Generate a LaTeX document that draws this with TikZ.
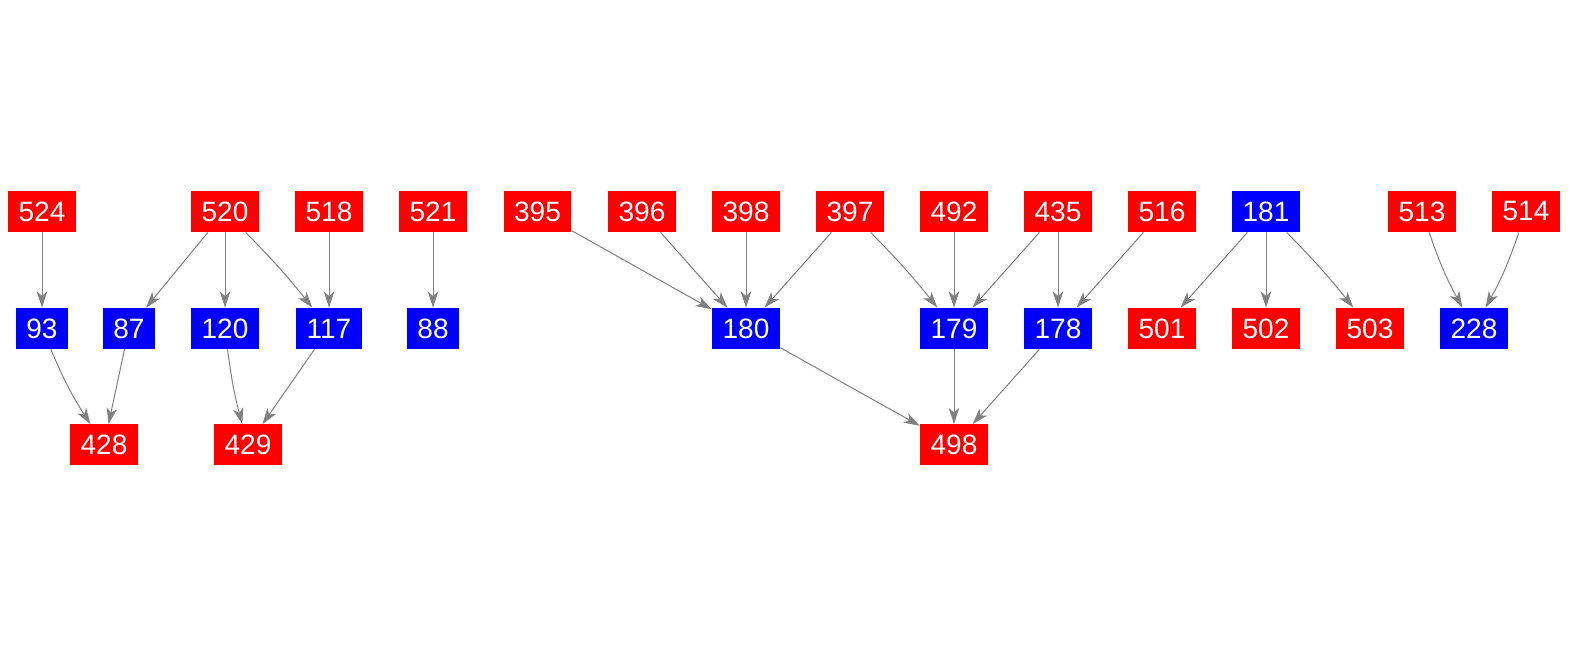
\documentclass[tikz,border=0pt]{standalone}
\usepackage{fontspec}
\setmainfont{Liberation Sans}
\usetikzlibrary{arrows.meta}
\begin{document}
\begin{tikzpicture}[x=0.5pt, y=-0.5pt,
    box/.style={text=white, minimum height=20.5pt, inner xsep=5.3pt, inner ysep=0pt,
        font=\fontsize{14}{16}\selectfont},
    rbox/.style={box, fill=red},
    bbox/.style={box, fill=blue},
    edge/.style={draw=gray, line width=0.5pt, -{Stealth[length=8pt, width=5.2pt, inset=2.2pt]}}]
    \useasboundingbox (0,0) rectangle (1569,656);
    % top row
    \node[rbox] (n524) at (42,211.5) {524};
    \node[rbox] (n520) at (225,211.5) {520};
    \node[rbox] (n518) at (329,211.5) {518};
    \node[rbox] (n521) at (433,211.5) {521};
    \node[rbox] (n395) at (537.5,211.5) {395};
    \node[rbox] (n396) at (642,211.5) {396};
    \node[rbox] (n398) at (746,211.5) {398};
    \node[rbox] (n397) at (850,211.5) {397};
    \node[rbox] (n492) at (954,211.5) {492};
    \node[rbox] (n435) at (1058,211.5) {435};
    \node[rbox] (n516) at (1162,211.5) {516};
    \node[bbox] (n181) at (1266,211.5) {181};
    \node[rbox] (n513) at (1422,211.5) {513};
    \node[rbox] (n514) at (1526,211.5) {514};
    % middle row
    \node[bbox] (n93) at (42,328.5) {93};
    \node[bbox] (n87) at (129,328.5) {87};
    \node[bbox] (n120) at (225,328.5) {120};
    \node[bbox] (n117) at (329,328.5) {117};
    \node[bbox] (n88) at (433,328.5) {88};
    \node[bbox] (n180) at (746,328.5) {180};
    \node[bbox] (n179) at (954,328.5) {179};
    \node[bbox] (n178) at (1058,328.5) {178};
    \node[rbox] (n501) at (1162,328.5) {501};
    \node[rbox] (n502) at (1266,328.5) {502};
    \node[rbox] (n503) at (1370,328.5) {503};
    \node[bbox] (n228) at (1474,328.5) {228};
    % bottom row
    \node[rbox] (n428) at (104,445) {428};
    \node[rbox] (n429) at (248,445) {429};
    \node[rbox] (n498) at (954,445) {498};
    % edges
    \draw[edge] (n524) -- (n93);
    \draw[edge] (n520) -- (n87);
    \draw[edge] (n520) -- (n120);
    \draw[edge] (n520) to[bend left=3] (n117);
    \draw[edge] (n518) -- (n117);
    \draw[edge] (n521) -- (n88);
    \draw[edge] (n93) to[bend right=5] (n428);
    \draw[edge] (n87) -- (n428);
    \draw[edge] (n120) to[bend right=4] (n429);
    \draw[edge] (n117) -- (n429);
    \draw[edge] (n395) -- (n180);
    \draw[edge] (n396) -- (n180);
    \draw[edge] (n398) -- (n180);
    \draw[edge] (n397) -- (n180);
    \draw[edge] (n397) to[bend left=3] (n179);
    \draw[edge] (n492) -- (n179);
    \draw[edge] (n435) -- (n179);
    \draw[edge] (n435) -- (n178);
    \draw[edge] (n516) -- (n178);
    \draw[edge] (n180) -- (n498);
    \draw[edge] (n179) -- (n498);
    \draw[edge] (n178) -- (n498);
    \draw[edge] (n181) -- (n501);
    \draw[edge] (n181) -- (n502);
    \draw[edge] (n181) to[bend left=3] (n503);
    \draw[edge] (n513) to[bend right=5] (n228);
    \draw[edge] (n514) to[bend left=5] (n228);
\end{tikzpicture}
\end{document}
